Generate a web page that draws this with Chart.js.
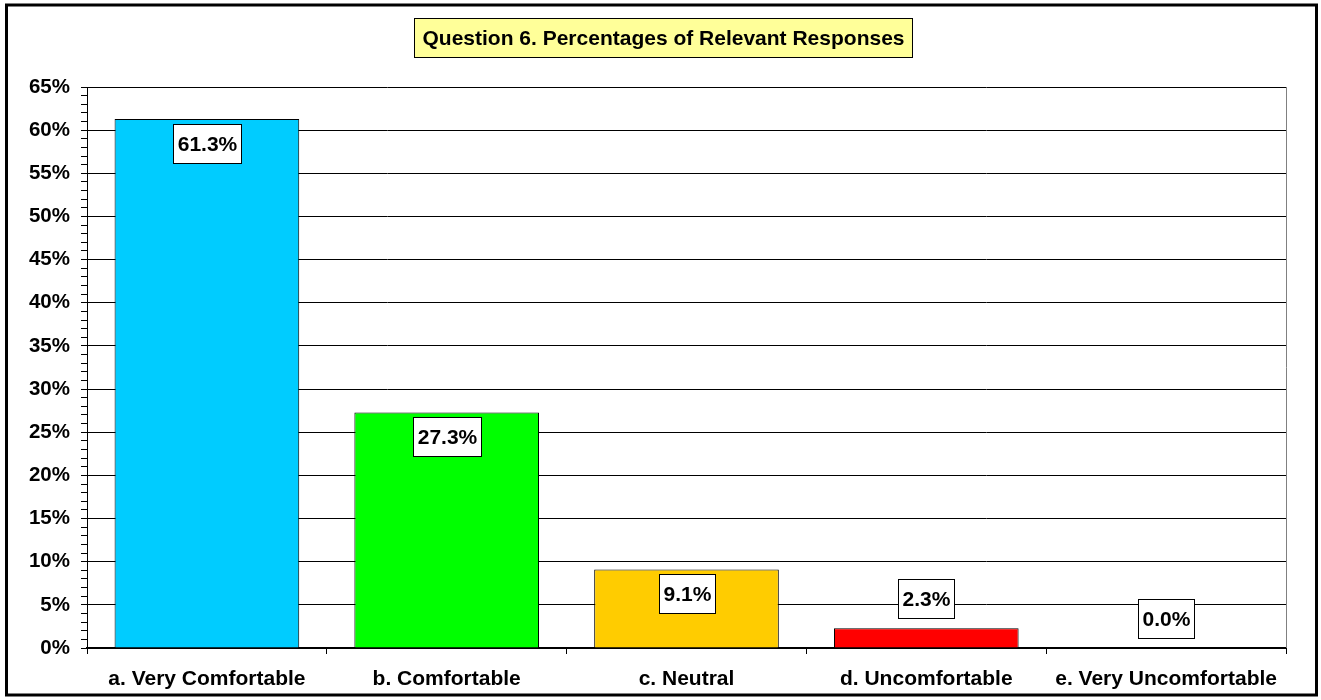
<!DOCTYPE html>
<html>
<head>
<meta charset="utf-8">
<script src="https://cdn.jsdelivr.net/npm/chart.js@4"></script>
<style>
  html, body { margin: 0; padding: 0; background: #fff; }
  #wrap { width: 1321px; height: 700px; position: relative; }
</style>
</head>
<body>
<div id="wrap"><canvas id="q6"></canvas></div>
<script>
// Question 6 data
const categories = ["a. Very Comfortable", "b. Comfortable", "c. Neutral", "d. Uncomfortable", "e. Very Uncomfortable"];
const percents = [61.3, 27.3, 9.1, 2.3, 0.0];
const barColors = ["#00CCFF", "#00FF00", "#FFCC00", "#FF0000", "#FF00FF"];
const titleText = "Question 6. Percentages of Relevant Responses";

const FONT = "'Liberation Sans', Arial, sans-serif";

// white page + thick outer frame + yellow title box
const framePlugin = {
  id: "frame",
  beforeDraw(chart) {
    const c = chart.ctx;
    c.save();
    c.fillStyle = "#fff";
    c.fillRect(0, 0, chart.width, chart.height);
    c.restore();
  },
  afterDraw(chart) {
    const c = chart.ctx;
    c.save();
    c.strokeStyle = "#000";
    c.lineWidth = 3;
    c.strokeRect(6.5, 5, chart.width - 11, chart.height - 10);

    c.font = "bold 21px " + FONT;
    const w = c.measureText(titleText).width + 16;
    const h = 39;
    const x = Math.round(chart.width / 2 + 2 - w / 2) + 0.5;
    const y = 18.5;
    c.fillStyle = "#FFFF99";
    c.fillRect(x, y, w, h);
    c.lineWidth = 1;
    c.strokeRect(x, y, w, h);
    c.fillStyle = "#000";
    c.textAlign = "center";
    c.textBaseline = "middle";
    c.fillText(titleText, x + w / 2, y + h / 2 + 1);

    // gray plot-area border on the right
    const a = chart.chartArea;
    c.strokeStyle = "#808080";
    c.beginPath();
    c.moveTo(a.right + 0.5, a.top);
    c.lineTo(a.right + 0.5, a.bottom);
    c.stroke();
    c.restore();
  }
};

// value labels in white boxes
const valueLabels = {
  id: "valueLabels",
  afterDatasetsDraw(chart) {
    const c = chart.ctx;
    const meta = chart.getDatasetMeta(0);
    c.save();
    c.font = "bold 21px " + FONT;
    c.textAlign = "center";
    c.textBaseline = "middle";
    meta.data.forEach((bar, i) => {
      const txt = percents[i].toFixed(1) + "%";
      const w = Math.round(c.measureText(txt).width + 8);
      const h = 39;
      const barH = bar.base - bar.y;
      let top;
      if (barH >= h + 15) top = bar.y + 5;
      else top = bar.y - 10 - h;
      const left = Math.round(bar.x - w / 2) + 0.5;
      top = Math.round(top) + 0.5;
      c.fillStyle = "#fff";
      c.fillRect(left, top, w, h);
      c.strokeStyle = "#000";
      c.lineWidth = 1;
      c.strokeRect(left, top, w, h);
      c.fillStyle = "#000";
      c.fillText(txt, left + w / 2, top + h / 2 + 1);
    });
    c.restore();
  }
};

new Chart(document.getElementById("q6"), {
  type: "bar",
  data: {
    labels: categories,
    datasets: [{
      data: percents,
      backgroundColor: barColors,
      borderColor: "#000",
      borderWidth: 1,
      barPercentage: 0.77,
      categoryPercentage: 1
    }]
  },
  options: {
    responsive: true,
    maintainAspectRatio: false,
    animation: false,
    devicePixelRatio: 1,
    layout: { padding: { left: 0, right: 35, top: 87, bottom: 0 } },
    plugins: {
      legend: { display: false },
      title: { display: false },
      tooltip: { enabled: false }
    },
    scales: {
      x: {
        afterFit(scale) { scale.height = 52; },
        grid: {
          drawOnChartArea: false,
          drawTicks: true,
          tickLength: 6,
          tickColor: "#000",
          offset: true
        },
        border: { color: "#000", width: 2 },
        ticks: {
          color: "#000",
          padding: 13,
          maxRotation: 0,
          font: { family: FONT, size: 21, weight: "bold" }
        }
      },
      y: {
        min: 0,
        max: 65,
        afterFit(scale) { scale.width = 87; },
        grid: {
          color: (ctx) => (ctx.tick && ctx.tick.value % 5 === 0 && ctx.tick.value > 0) ? "#000" : "rgba(0,0,0,0)",
          tickColor: "#000",
          tickLength: 6,
          lineWidth: 1
        },
        border: { color: "#000", width: 1 },
        ticks: {
          stepSize: 1,
          autoSkip: false,
          padding: 11,
          color: "#000",
          font: { family: FONT, size: 20.5, weight: "bold" },
          callback: (v) => (v % 5 === 0 ? v + "%" : "")
        }
      }
    }
  },
  plugins: [framePlugin, valueLabels]
});
</script>
</body>
</html>
